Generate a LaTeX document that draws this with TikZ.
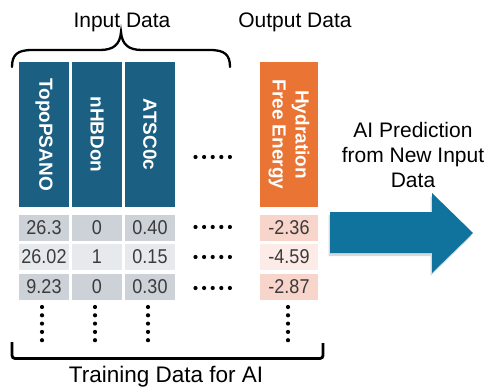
\documentclass[tikz,border=0pt]{standalone}
\usepackage{fontspec}
\setmainfont{Liberation Sans}
\newfontfamily\numfont[FakeStretch=0.9]{Liberation Sans}
\usetikzlibrary{shadows}
\definecolor{hdrblue}{HTML}{1B5F82}
\definecolor{arrblue}{HTML}{0F739E}
\definecolor{orng}{HTML}{EA7433}
\definecolor{gra}{HTML}{CDD2D8}
\definecolor{grb}{HTML}{E7EAED}
\definecolor{pka}{HTML}{F8D5CB}
\definecolor{pkb}{HTML}{FCEBE6}
\definecolor{numcol}{HTML}{3B3B3B}
\tikzset{
  hdr/.style={fill=hdrblue, rotate=-90, minimum width=145pt, minimum height=50pt, inner sep=0pt,
    text=white, font=\fontsize{19}{23}\selectfont\bfseries},
  outhdr/.style={hdr, fill=orng, minimum height=58pt, align=center},
  cell/.style={minimum width=50pt, minimum height=26pt, inner sep=0pt, text=numcol,
    font=\numfont\fontsize{20}{20}\selectfont},
  outcell/.style={cell, minimum width=58pt},
  lbl/.style={font=\fontsize{21}{25}\selectfont, inner sep=0pt},
  dotc/.style={fill=black},
}
\begin{document}
\begin{tikzpicture}[x=1pt,y=-1pt]
\useasboundingbox (0,0) rectangle (486,387);
% headers
\node[hdr] (h1) at (44,134.5) {TopoPSANO};
\node[hdr] (h2) at (97,134.5) {nHBDon};
\node[hdr] (h3) at (150,134.5) {ATSC0c};
\node[outhdr] (ho) at (289,134.5) {Hydration\\Free Energy};
% rows
\node[cell, fill=gra] (r11) at (44,228) {26.3};
\node[cell, fill=gra] (r12) at (97,228) {0};
\node[cell, fill=gra] (r13) at (150,228) {0.40};
\node[outcell, fill=pka] (r1o) at (289,228) {-2.36};
\node[cell, fill=grb] (r21) at (44,256.5) {26.02};
\node[cell, fill=grb] (r22) at (97,256.5) {1};
\node[cell, fill=grb] (r23) at (150,256.5) {0.15};
\node[outcell, fill=pkb] (r2o) at (289,256.5) {-4.59};
\node[cell, fill=gra] (r31) at (44,286.5) {9.23};
\node[cell, fill=gra] (r32) at (97,286.5) {0};
\node[cell, fill=gra] (r33) at (150,286.5) {0.30};
\node[outcell, fill=pka] (r3o) at (289,286.5) {-2.87};
% horizontal dots
\foreach \yy in {157,227,257,288}
  \foreach \i in {0,...,4}
    \fill[dotc] (195.5+\i*8.6,\yy) circle (2.1);
% vertical dots
\foreach \xx in {42,95,148,288}
  \foreach \i in {0,...,4}
    \fill[dotc] (\xx,307+\i*8.3) circle (2.1);
% top brace
\draw[line width=2.3pt, line cap=round]
  (12,67) .. controls (12,55) and (17,50) .. (32,50) -- (100,50)
  .. controls (113,50) and (120,45) .. (121,32)
  .. controls (122,45) and (129,50) .. (142,50) -- (210,50)
  .. controls (225,50) and (230,55) .. (230,67);
% bottom bracket
\draw[line width=2.8pt, rounded corners=3pt] (12,342) -- (12,358.5) -- (323,358.5) -- (323,343);
% labels
\node[lbl, anchor=base] (inlbl) at (122,28) {Input Data};
\node[lbl, anchor=base] (outlbl) at (295,28) {Output Data};
\node[font=\fontsize{22.5}{26}\selectfont, inner sep=0pt, anchor=base] (trlbl) at (166,382) {Training Data for AI};
\node[lbl, align=center] (pred) at (413,155) {AI Prediction\\from New Input\\Data};
% arrow
\fill[arrblue, drop shadow={opacity=0.3, shadow xshift=-1.5pt, shadow yshift=-3pt}]
  (330,212) -- (432,212) -- (432,193) -- (473,233) -- (432,273) -- (432,253) -- (330,253) -- cycle;
\end{tikzpicture}
\end{document}
